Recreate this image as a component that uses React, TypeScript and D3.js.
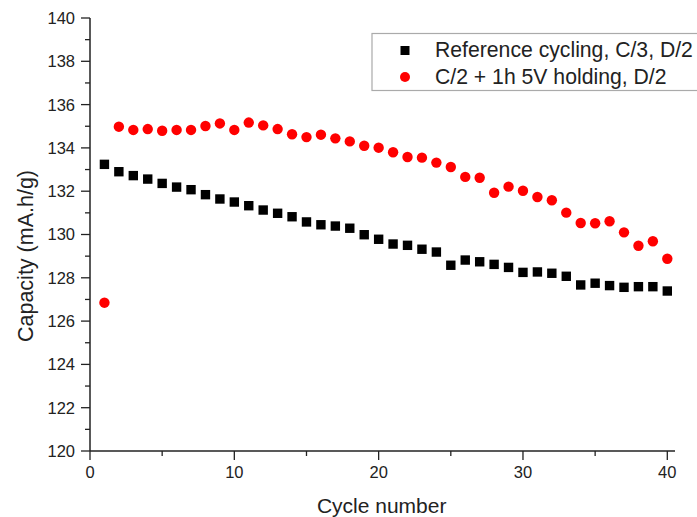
import React from "react";
import * as d3 from "d3";

const cycles = d3.range(1, 41);
const refValues = [
  133.24, 132.9, 132.72, 132.56, 132.36, 132.19, 132.07, 131.84, 131.64, 131.5,
  131.33, 131.13, 130.98, 130.82, 130.58, 130.45, 130.39, 130.29, 129.99, 129.78,
  129.56, 129.5, 129.32, 129.19, 128.58, 128.82, 128.74, 128.62, 128.48, 128.25,
  128.27, 128.21, 128.07, 127.67, 127.75, 127.64, 127.56, 127.59, 127.59, 127.39,
];
const holdValues = [
  126.85, 134.98, 134.83, 134.87, 134.79, 134.83, 134.83, 135.01, 135.13, 134.83,
  135.17, 135.04, 134.87, 134.63, 134.5, 134.61, 134.44, 134.3, 134.1, 134.01,
  133.8, 133.58, 133.55, 133.32, 133.12, 132.66, 132.62, 131.93, 132.21, 132.02,
  131.73, 131.58, 131.01, 130.53, 130.52, 130.61, 130.1, 129.48, 129.69, 128.88,
];
const seriesNames = ["Reference cycling, C/3, D/2", "C/2 + 1h 5V holding, D/2"];
const xTicks = [0, 10, 20, 30, 40];
const xMinor = [5, 15, 25, 35];
const yTicks = [120, 122, 124, 126, 128, 130, 132, 134, 136, 138, 140];
const yMinor = [121, 123, 125, 127, 129, 131, 133, 135, 137, 139];

export default function App() {
  const W = 697, H = 517;
  const x = d3.scaleLinear().domain([0, 40]).range([90, 667.3]);
  const y = d3.scaleLinear().domain([120, 140]).range([451, 18]);
  const font = "Liberation Sans, Arial, sans-serif";
  const tc = "#222";
  return (
    <svg width={W} height={H} style={{ position: "absolute", left: 0, top: 0, background: "#fff" }} fontFamily={font}>
      {/* axes */}
      <line x1={90} x2={90} y1={y(140)} y2={451} stroke="#222" strokeWidth={1.5} />
      <line x1={90} x2={675} y1={451} y2={451} stroke="#222" strokeWidth={1.5} />
      {yTicks.map((t) => (
        <g key={"y" + t}>
          <line x1={81} x2={90} y1={y(t)} y2={y(t)} stroke="#222" strokeWidth={1.3} />
          <text x={75} y={y(t)} dy="0.36em" textAnchor="end" fontSize={16.5} fill={tc}>{t}</text>
        </g>
      ))}
      {yMinor.map((t) => (
        <line key={"ym" + t} x1={85} x2={90} y1={y(t)} y2={y(t)} stroke="#222" strokeWidth={1.3} />
      ))}
      {xTicks.map((t) => (
        <g key={"x" + t}>
          <line x1={x(t)} x2={x(t)} y1={451} y2={460} stroke="#222" strokeWidth={1.3} />
          <text x={x(t)} y={478} textAnchor="middle" fontSize={16.5} fill={tc}>{t}</text>
        </g>
      ))}
      {xMinor.map((t) => (
        <line key={"xm" + t} x1={x(t)} x2={x(t)} y1={451} y2={456} stroke="#222" strokeWidth={1.3} />
      ))}
      <text x={381.7} y={512.5} textAnchor="middle" fontSize={21} fill={tc}>Cycle number</text>
      <text transform={`translate(33,${256}) rotate(-90)`} textAnchor="middle" fontSize={21.5} fill={tc}>
        Capacity (mA.h/g)
      </text>
      {/* data */}
      {refValues.map((v, i) => (
        <rect key={"r" + i} x={x(cycles[i]) - 4.7} y={y(v) - 4.7} width={9.4} height={9.4} fill="#000" />
      ))}
      {holdValues.map((v, i) => (
        <circle key={"c" + i} cx={x(cycles[i])} cy={y(v)} r={5.2} fill="#ff0000" />
      ))}
      {/* legend */}
      <rect x={372} y={33.5} width={330} height={57} fill="#fff" stroke="#aaa" strokeWidth={1.2} />
      <rect x={400.5} y={46} width={9} height={9} fill="#000" />
      <circle cx={405} cy={77} r={5} fill="#ff0000" />
      <text x={435} y={57} fontSize={21.2} fill={tc}>{seriesNames[0]}</text>
      <text x={435} y={84} fontSize={21.2} fill={tc}>{seriesNames[1]}</text>
    </svg>
  );
}
